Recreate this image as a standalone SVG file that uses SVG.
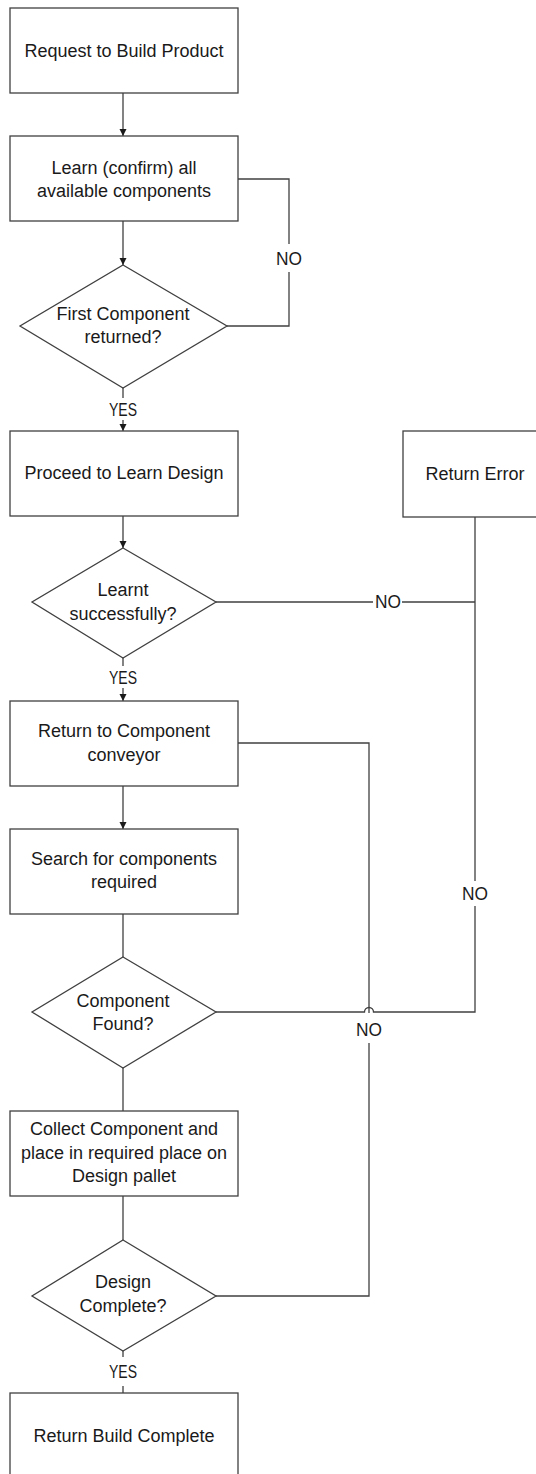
<svg xmlns="http://www.w3.org/2000/svg" width="536" height="1474" viewBox="0 0 536 1474">
<style>
.n{fill:#ffffff;stroke:#404040;stroke-width:1.3}
.c{fill:none;stroke:#404040;stroke-width:1.3}
text{font-family:"Liberation Sans",Arial,sans-serif;font-size:18px;fill:#1a1a1a;text-anchor:middle}
</style>
<defs>
<marker id="ah" viewBox="0 0 10 10" refX="10" refY="5" markerWidth="7" markerHeight="10" markerUnits="userSpaceOnUse" orient="auto">
<path d="M0,0 L10,5 L0,10 z" fill="#1a1a1a"/>
</marker>
</defs>
<rect width="536" height="1474" fill="#ffffff"/>
<g id="connectors">
<path class="c" d="M123,93 V136" marker-end="url(#ah)"/>
<path class="c" d="M123,221 V265" marker-end="url(#ah)"/>
<path class="c" d="M227,326 H289 V272 M289,244 V179 H238"/>
<path class="c" d="M123,388 V398"/>
<path class="c" d="M123,420 V431" marker-end="url(#ah)"/>
<path class="c" d="M123,516 V548" marker-end="url(#ah)"/>
<path class="c" d="M123,658 V666"/>
<path class="c" d="M123,688 V701" marker-end="url(#ah)"/>
<path class="c" d="M216,602 H373 M402,602 H475"/>
<path class="c" d="M475,517 V881 M475,906 V1012 H373.5 A4.5,4.5 0 0 0 364.5,1012 H216"/>
<path class="c" d="M216,1296 H369 V1043 M369,1013 V743 H238"/>
<path class="c" d="M123,786 V829" marker-end="url(#ah)"/>
<path class="c" d="M123,914 V957"/>
<path class="c" d="M123,1068 V1111"/>
<path class="c" d="M123,1196 V1240"/>
<path class="c" d="M123,1351 V1357 M123,1386 V1393"/>
</g>
<g id="labels">
<text x="289" y="265" textLength="26" lengthAdjust="spacingAndGlyphs">NO</text>
<text x="123" y="416" textLength="28" lengthAdjust="spacingAndGlyphs">YES</text>
<text x="388" y="608" textLength="26" lengthAdjust="spacingAndGlyphs">NO</text>
<text x="123" y="684" textLength="28" lengthAdjust="spacingAndGlyphs">YES</text>
<text x="475" y="900" textLength="26" lengthAdjust="spacingAndGlyphs">NO</text>
<text x="369" y="1036" textLength="26" lengthAdjust="spacingAndGlyphs">NO</text>
<text x="123" y="1378" textLength="28" lengthAdjust="spacingAndGlyphs">YES</text>
</g>
<g id="n1"><rect class="n" x="10" y="8" width="228" height="85"/><text x="124" y="57">Request to Build Product</text></g>
<g id="n2"><rect class="n" x="10" y="136" width="228" height="85"/><text x="124" y="174">Learn (confirm) all</text><text x="124" y="197">available components</text></g>
<g id="d1"><polygon class="n" points="123,265 227,326 123,388 20,326"/><text x="123" y="320">First Component</text><text x="123" y="343">returned?</text></g>
<g id="n3"><rect class="n" x="10" y="431" width="228" height="85"/><text x="124" y="479">Proceed to Learn Design</text></g>
<g id="nerr"><rect class="n" x="403" y="431" width="144" height="86"/><text x="475" y="480">Return Error</text></g>
<g id="d2"><polygon class="n" points="123,548 216,602 123,658 32,602"/><text x="123" y="596">Learnt</text><text x="123" y="620">successfully?</text></g>
<g id="n4"><rect class="n" x="10" y="701" width="228" height="85"/><text x="124" y="737">Return to Component</text><text x="124" y="761">conveyor</text></g>
<g id="n5"><rect class="n" x="10" y="829" width="228" height="85"/><text x="124" y="865">Search for components</text><text x="124" y="888">required</text></g>
<g id="d3"><polygon class="n" points="123,957 216,1012 123,1068 32,1012"/><text x="123" y="1007">Component</text><text x="123" y="1030">Found?</text></g>
<g id="n6"><rect class="n" x="10" y="1111" width="228" height="85"/><text x="124" y="1135">Collect Component and</text><text x="124" y="1159">place in required place on</text><text x="124" y="1182">Design pallet</text></g>
<g id="d4"><polygon class="n" points="123,1240 216,1296 123,1351 32,1296"/><text x="123" y="1288">Design</text><text x="123" y="1312">Complete?</text></g>
<g id="n7"><rect class="n" x="10" y="1393" width="228" height="85"/><text x="124" y="1442">Return Build Complete</text></g>
</svg>
